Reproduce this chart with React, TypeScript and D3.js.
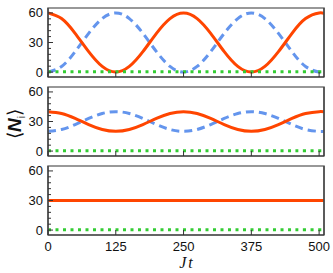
import React from "react";
import * as d3 from "d3";

const times = [0, 25, 50, 75, 100, 125, 150, 175, 200, 225, 250, 275, 300, 325, 350, 375, 400, 425, 450, 475, 500, 510];
const red1 = [60, 54.3, 39.3, 20.7, 5.7, 0, 5.7, 20.7, 39.3, 54.3, 60, 54.3, 39.3, 20.7, 5.7, 0, 5.7, 20.7, 39.3, 54.3, 60, 59.1];
const blue1 = [0, 5.7, 20.7, 39.3, 54.3, 60, 54.3, 39.3, 20.7, 5.7, 0, 5.7, 20.7, 39.3, 54.3, 60, 54.3, 39.3, 20.7, 5.7, 0, 0.9];
const red2 = [40, 38.1, 33.1, 26.9, 21.9, 20, 21.9, 26.9, 33.1, 38.1, 40, 38.1, 33.1, 26.9, 21.9, 20, 21.9, 26.9, 33.1, 38.1, 40, 39.7];
const blue2 = [20, 21.9, 26.9, 33.1, 38.1, 40, 38.1, 33.1, 26.9, 21.9, 20, 21.9, 26.9, 33.1, 38.1, 40, 38.1, 33.1, 26.9, 21.9, 20, 20.3];
const red3 = times.map(() => 30);
const blue3 = times.map(() => 30);
const green = times.map(() => 0.3);

const panels = [
  { red: red1, blue: blue1, green },
  { red: red2, blue: blue2, green },
  { red: red3, blue: blue3, green },
];

const yTicks = [0, 30, 60];
const yMinor = [6, 12, 18, 24, 36, 42, 48, 54];
const xTicks = [0, 125, 250, 375, 500];

const W = 333, H = 273;
const left = 48, right = 324;
const panelTops = [8, 87, 166];
const panelH = 69;

export default function App() {
  const x = d3.scaleLinear().domain([0, 509]).range([left, right]);
  const font = "'Liberation Sans', Arial, sans-serif";
  return (
    <svg width={W} height={H} style={{ position: "absolute", left: 0, top: 0 }}>
      <rect width={W} height={H} fill="white" />
      {panels.map((p, pi) => {
        const top = panelTops[pi];
        const bottom = top + panelH;
        const y = d3.scaleLinear().domain([-5, 65]).range([bottom, top]);
        const line = (vals: number[]) =>
          d3.line<number>().x((_, i) => x(times[i])).y((v) => y(v)).curve(d3.curveNatural)(vals) || "";
        return (
          <g key={pi}>
            <defs>
              <clipPath id={`clip${pi}`}>
                <rect x={left} y={top} width={right - left} height={panelH} />
              </clipPath>
            </defs>
            <g clipPath={`url(#clip${pi})`}>
              <path d={line(p.blue)} fill="none" stroke="#6495ED" strokeWidth={3} strokeDasharray="8,5" />
              <path d={line(p.red)} fill="none" stroke="#FF4500" strokeWidth={3} />
              <path d={line(p.green)} fill="none" stroke="#33CC33" strokeWidth={3} strokeDasharray="3,4.5" />
            </g>
            <rect x={left} y={top} width={right - left} height={panelH} fill="none" stroke="#777" strokeWidth={1.5} />
            <line x1={left} x2={left} y1={top} y2={bottom} stroke="#333" strokeWidth={1.2} />
            <line x1={left} x2={right} y1={bottom} y2={bottom} stroke="#333" strokeWidth={1.2} />
            <line x1={right} x2={right} y1={top} y2={bottom} stroke="#333" strokeWidth={1.2} />
            {yTicks.map((t) => (
              <g key={t}>
                <line x1={left} x2={left + 5} y1={y(t)} y2={y(t)} stroke="#333" strokeWidth={1} />
                <text x={left - 5} y={y(t)} dy="0.35em" textAnchor="end" fontFamily={font} fontSize={13} fill="#111">
                  {t}
                </text>
              </g>
            ))}
            {yMinor.map((t) => (
              <line key={t} x1={left} x2={left + 3} y1={y(t)} y2={y(t)} stroke="#333" strokeWidth={1} />
            ))}
            {xTicks.map((t) => (
              <line key={t} x1={x(t)} x2={x(t)} y1={bottom} y2={bottom - 5} stroke="#333" strokeWidth={1} />
            ))}
          </g>
        );
      })}
      {xTicks.map((t) => (
        <text key={t} x={x(t)} y={251} textAnchor="middle" fontFamily={font} fontSize={13} fill="#111">
          {t}
        </text>
      ))}
      <text x={186} y={268} textAnchor="middle" fontFamily="'Liberation Serif', serif" fontStyle="italic" fontSize={16} fill="#111">
        J<tspan dx={2}>t</tspan>
      </text>
      <text
        transform="translate(21,124) rotate(-90)"
        textAnchor="middle"
        fontFamily={font}
        fontSize={19}
        fill="#111"
      >
        <tspan fontWeight="300">⟨</tspan>
        <tspan fontWeight="bold" fontStyle="italic">N</tspan>
        <tspan fontSize={10} dy={4}>i</tspan>
        <tspan dy={-4} fontWeight="300">⟩</tspan>
      </text>
    </svg>
  );
}
